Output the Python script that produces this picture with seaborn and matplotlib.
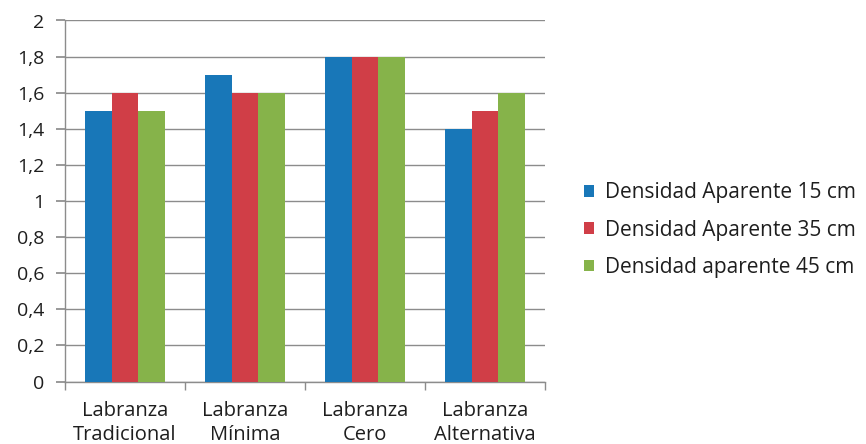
import matplotlib
matplotlib.use("Agg")
import matplotlib.pyplot as plt
import matplotlib.ticker as mticker
import seaborn as sns
import pandas as pd

categories = ["Labranza\nTradicional", "Labranza\nMínima", "Labranza\nCero", "Labranza\nAlternativa"]
series = ["Densidad Aparente 15 cm", "Densidad Aparente 35 cm", "Densidad aparente 45 cm"]
d15 = [1.5, 1.7, 1.8, 1.4]
d35 = [1.6, 1.6, 1.8, 1.5]
d45 = [1.5, 1.6, 1.8, 1.6]
colors = ["#1877B8", "#D03E47", "#86B34A"]

rows = []
for s, vals in zip(series, [d15, d35, d45]):
    for c, v in zip(categories, vals):
        rows.append({"cat": c, "serie": s, "val": v})
df = pd.DataFrame(rows)

sns.set_theme(style="white")
plt.rcParams["font.family"] = ["Open Sans", "DejaVu Sans"]

W, H = 866, 444
x0, x1, y0, y1 = 65, 545, 381.5, 20.5
fig = plt.figure(figsize=(8.66, 4.44), dpi=100)
ax = fig.add_axes([x0 / W, 1 - y0 / H, (x1 - x0) / W, (y0 - y1) / H])
sns.barplot(data=df, x="cat", y="val", hue="serie", palette=colors,
            width=0.66, saturation=1, ax=ax, zorder=3, linewidth=0,
            edgecolor="none")

ax.set_ylim(0, 2)
ax.set_xlim(-0.5, 3.5)
ax.yaxis.set_major_locator(mticker.MultipleLocator(0.2))
ax.yaxis.set_major_formatter(mticker.FuncFormatter(
    lambda v, p: ("%g" % round(v, 1)).replace(".", ",")))
ax.grid(axis="y", color="#8c8c8c", linewidth=1.0, zorder=0)
ax.set_axisbelow(True)
for s in ["top", "right"]:
    ax.spines[s].set_visible(False)
for s in ["left", "bottom"]:
    ax.spines[s].set_color("#8c8c8c")
    ax.spines[s].set_linewidth(1.0)
ax.tick_params(axis="y", length=6.5, color="#8c8c8c", labelsize=14, pad=8.5,
               left=True, labelcolor="#1e1e1e")
ax.tick_params(axis="x", which="major", length=0, labelsize=14.5, pad=14,
               labelcolor="#1e1e1e")
ax.set_xticks([-0.5, 0.5, 1.5, 2.5, 3.5], minor=True)
ax.tick_params(axis="x", which="minor", length=6, color="#8c8c8c", bottom=True)
ax.set_xlabel("")
ax.set_ylabel("")
for lab in ax.get_xticklabels():
    lab.set_linespacing(1.3)

handles, labels = ax.get_legend_handles_labels()
ax.legend_.remove()
leg = fig.legend(handles, labels, loc="center left",
                 bbox_to_anchor=(584 / W, 1 - 230 / H),
                 bbox_transform=fig.transFigure, frameon=False,
                 fontsize=15, handlelength=0.48, handleheight=0.48,
                 handletextpad=0.55, labelspacing=0.78,
                 borderpad=0, borderaxespad=0, labelcolor="#1e1e1e")

fig.savefig("out.png", dpi=100)
